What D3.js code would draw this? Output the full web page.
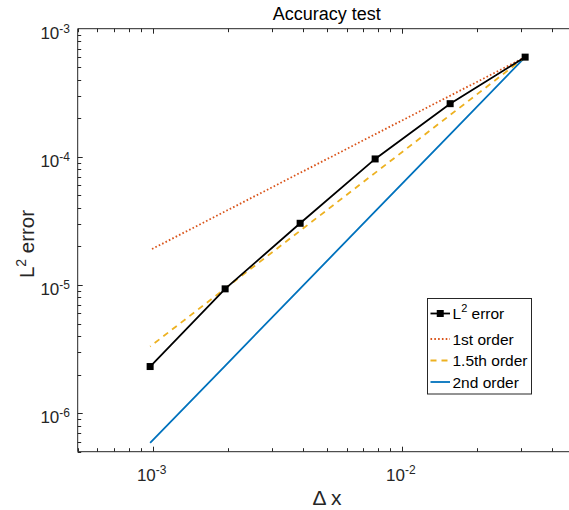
<!DOCTYPE html>
<html>
<head>
<meta charset="utf-8">
<script src="https://cdn.jsdelivr.net/npm/d3@7"></script>
<style>
  html, body { margin: 0; padding: 0; background: #fff; }
  svg { display: block; font-family: "Liberation Sans", Arial, Helvetica, sans-serif; }
</style>
</head>
<body>
<div id="chart"></div>
<script>
// Grid spacings and measured L2 errors
const dx = [0.03125, 0.015625, 0.0078125, 0.00390625, 0.001953125, 0.0009765625];
const l2Error = [6.0e-4, 2.60e-4, 9.63e-5, 3.03e-5, 9.33e-6, 2.31e-6];
// Reference convergence slopes anchored at the coarsest grid
const firstOrder = [6.0e-4, 3.0e-4, 1.5e-4, 7.5e-5, 3.75e-5, 1.875e-5];
const order15 = [6.0e-4, 2.12e-4, 7.5e-5, 2.65e-5, 9.38e-6, 3.31e-6];
const secondOrder = [6.0e-4, 1.5e-4, 3.75e-5, 9.38e-6, 2.34e-6, 5.86e-7];

const xTickExps = [-3, -2];
const yTickExps = [-3, -4, -5, -6];

const seriesNames = ["L2 error", "1st order", "1.5th order", "2nd order"];

const W = 569, H = 510;
const margin = { left: 77.7, top: 28.7, right: 576, bottom: 451.7 };
const axisColor = "#262626";

const svg = d3.select("#chart").append("svg")
  .attr("width", W).attr("height", H);

const x = d3.scaleLog().domain([5e-4, 5e-2]).range([margin.left, margin.right]);
const y = d3.scaleLog().domain([5e-7, 1e-3]).range([margin.bottom, margin.top]);

svg.append("defs").append("clipPath").attr("id", "plotclip")
  .append("rect").attr("x", margin.left).attr("y", margin.top - 6)
  .attr("width", W - margin.left).attr("height", margin.bottom - margin.top + 12);

// Ticks: major at decades, minor at 2..9
const xMinor = [];
[-4, -3, -2].forEach(e => { for (let k = 1; k <= 9; k++) { const v = k * Math.pow(10, e); if (v >= 5e-4 && v <= 5e-2) xMinor.push(v); } });
const yMinor = [];
[-7, -6, -5, -4].forEach(e => { for (let k = 1; k <= 9; k++) { const v = k * Math.pow(10, e); if (v >= 5e-7 && v <= 1e-3) yMinor.push(v); } });

const tickG = svg.append("g").attr("stroke", axisColor).attr("stroke-width", 1);
const majLen = 5, minLen = 3.5;
const isDecade = v => Math.abs(Math.log10(v) - Math.round(Math.log10(v))) < 1e-9;
xMinor.forEach(v => {
  const L = isDecade(v) ? majLen : minLen;
  const px = Math.round(x(v)) + 0.5;
  tickG.append("line").attr("x1", px).attr("x2", px).attr("y1", margin.bottom).attr("y2", margin.bottom - L);
  tickG.append("line").attr("x1", px).attr("x2", px).attr("y1", margin.top).attr("y2", margin.top + L);
});
yMinor.forEach(v => {
  const L = isDecade(v) ? majLen : minLen;
  const py = Math.round(y(v)) + 0.5;
  tickG.append("line").attr("x1", margin.left).attr("x2", margin.left + L).attr("y1", py).attr("y2", py);
});

// Axis box (right side extends past the view)
svg.append("path")
  .attr("d", `M${W + 20},${margin.top}H${margin.left}V${margin.bottom}H${W + 20}`)
  .attr("fill", "none").attr("stroke", axisColor).attr("stroke-width", 1);

// Tick labels with superscript exponents
xTickExps.forEach(e => {
  const t = svg.append("text").attr("x", x(Math.pow(10, e)) - 1).attr("y", 480.5)
    .attr("text-anchor", "middle").attr("fill", axisColor).attr("font-size", 17);
  t.append("tspan").text("10");
  t.append("tspan").attr("dy", -6.5).attr("font-size", 12).text(String(e));
});
yTickExps.forEach(e => {
  const t = svg.append("text").attr("x", 70).attr("y", y(Math.pow(10, e)) + 10)
    .attr("text-anchor", "end").attr("fill", axisColor).attr("font-size", 17);
  t.append("tspan").text("10");
  t.append("tspan").attr("dy", -6).attr("font-size", 12).text(String(e));
});

// Title and axis labels
svg.append("text").attr("x", (margin.left + margin.right) / 2).attr("y", 19.5)
  .attr("text-anchor", "middle").attr("fill", "#000").attr("font-size", 18).text("Accuracy test");
svg.append("text").attr("x", 327).attr("y", 505)
  .attr("text-anchor", "middle").attr("fill", axisColor).attr("font-size", 21).text("\u0394 x");
const yl = svg.append("text").attr("transform", `translate(34,244) rotate(-90)`)
  .attr("text-anchor", "middle").attr("fill", axisColor).attr("font-size", 20.5);
yl.append("tspan").text("L");
yl.append("tspan").attr("dy", -8).attr("font-size", 14).text("2");
yl.append("tspan").attr("dy", 8).text(" error");

// Data lines
const line = d3.line().x((d, i) => x(dx[i])).y(d => y(d));
const plot = svg.append("g").attr("clip-path", "url(#plotclip)");

const styles = [
  { data: l2Error, color: "#000000", dash: null, width: 1.8 },
  { data: firstOrder, color: "#D95319", dash: "1.6,2.2", width: 1.8 },
  { data: order15, color: "#EDB120", dash: "6,5", width: 1.8 },
  { data: secondOrder, color: "#0072BD", dash: null, width: 1.8 }
];
[styles[3], styles[2], styles[1], styles[0]].forEach(s => {
  plot.append("path").datum(s.data).attr("d", line)
    .attr("fill", "none").attr("stroke", s.color).attr("stroke-width", s.width)
    .attr("stroke-dasharray", s.dash);
});
const ms = 7;
plot.selectAll("rect.mk").data(l2Error).enter().append("rect")
  .attr("x", (d, i) => x(dx[i]) - ms / 2).attr("y", d => y(d) - ms / 2)
  .attr("width", ms).attr("height", ms).attr("fill", "#000");

// Legend
const lg = svg.append("g");
lg.append("rect").attr("x", 427.5).attr("y", 298.5).attr("width", 104).attr("height", 95.5)
  .attr("fill", "#fff").attr("stroke", axisColor).attr("stroke-width", 1);
const rowsY = [313.5, 339, 360.5, 382];
styles.forEach((s, i) => {
  const ry = rowsY[i];
  lg.append("line").attr("x1", 430.5).attr("x2", 450).attr("y1", ry).attr("y2", ry)
    .attr("stroke", s.color).attr("stroke-width", s.width).attr("stroke-dasharray", s.dash);
  if (i === 0) {
    lg.append("rect").attr("x", 440.25 - 3.5).attr("y", ry - 3.5).attr("width", 7).attr("height", 7).attr("fill", "#000");
  }
  const t = lg.append("text").attr("x", 452.5).attr("y", ry + 5.5).attr("fill", "#000").attr("font-size", 15.5);
  if (i === 0) {
    t.append("tspan").text("L");
    t.append("tspan").attr("dy", -7).attr("font-size", 11).text("2");
    t.append("tspan").attr("dy", 7).text(" error");
  } else {
    t.text(seriesNames[i]);
  }
});
</script>
</body>
</html>
